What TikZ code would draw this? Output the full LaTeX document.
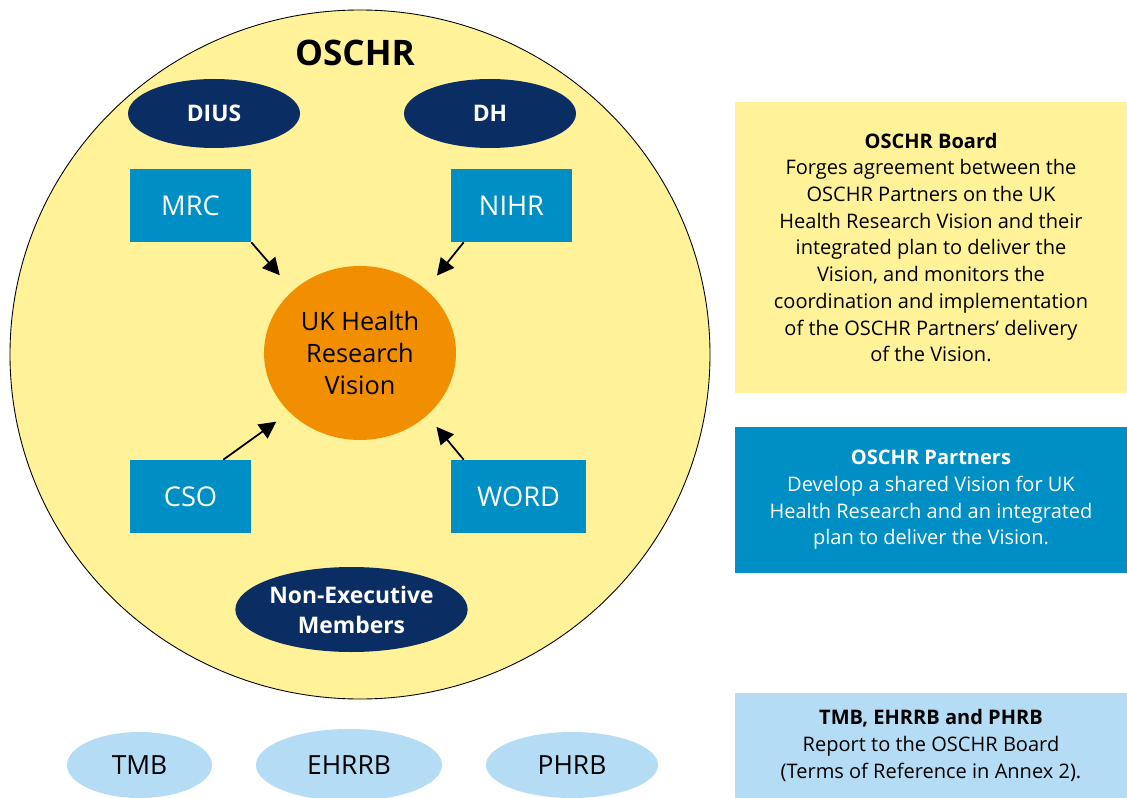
\documentclass[tikz,border=0pt]{standalone}
\usepackage{fontspec}
\setmainfont{Open Sans}
\usetikzlibrary{shapes.geometric, arrows.meta, positioning}
\definecolor{oschryellow}{RGB}{255,242,153}
\definecolor{deptnavy}{RGB}{10,45,100}
\definecolor{partnerblue}{RGB}{0,143,197}
\definecolor{visionorange}{RGB}{241,143,0}
\definecolor{boardblue}{RGB}{180,220,245}

\begin{document}
\begin{tikzpicture}[
    x=0.2mm, y=-0.2mm,
    oschr/.style={ellipse, draw=black, line width=0.5pt, fill=oschryellow, minimum width=140mm, minimum height=137.8mm, inner sep=0pt},
    dept/.style={ellipse, fill=deptnavy, text=white, font=\fontsize{13}{17}\selectfont\bfseries, minimum width=34.4mm, minimum height=13.8mm, inner sep=0pt, align=center},
    partner/.style={rectangle, fill=partnerblue, text=white, font=\fontsize{15.5}{19}\selectfont, minimum width=24.2mm, minimum height=14.6mm, inner sep=0pt},
    vision/.style={ellipse, fill=visionorange, font=\fontsize{14.4}{18}\selectfont, minimum width=38.4mm, minimum height=34.8mm, inner sep=0pt, align=center},
    subboard/.style={ellipse, fill=boardblue, font=\fontsize{15}{17}\selectfont, minimum height=13.2mm, inner sep=0pt},
    infobox/.style={rectangle, minimum width=78.4mm, inner sep=0pt, font=\fontsize{11.4}{15.2}\selectfont, align=center},
    arr/.style={-{Triangle[length=3.4mm, width=3.4mm]}, line width=1pt},
]
\useasboundingbox (0,0) rectangle (1127,798);

\node[oschr] (oschr) at (360,354.5) {};
\node[font=\fontsize{20}{24}\selectfont\bfseries] (title) at (355,52.5) {OSCHR};

\node[dept] (dius) at (214,113.5) {DIUS};
\node[dept] (dh) at (490,113.5) {DH};

\node[partner] (mrc) at (190.5,205.5) {MRC};
\node[partner] (nihr) at (511.5,205.5) {NIHR};
\node[partner] (cso) at (190.5,496.5) {CSO};
\node[partner, minimum width=27mm] (word) at (518.5,496.5) {WORD};

\node[vision] (vis) at (360,353) {UK Health\\Research\\Vision};

\node[dept, minimum width=44.6mm, minimum height=17mm] (nonexec) at (351.5,609.5) {Non-Executive\\Members};

\draw[arr, shorten >=4mm] (mrc.south east) -- (vis.137);
\draw[arr, shorten >=3.5mm] ([xshift=2.6mm]nihr.south west) -- (vis.44);
\draw[arr, shorten >=3.2mm] ([xshift=-5.6mm]cso.north east) -- (vis.220);
\draw[arr, shorten >=2.9mm] ([xshift=2.6mm]word.north west) -- (vis.317);

% boards reporting to OSCHR
\node[subboard, minimum width=29mm] (tmb) at (139.5,765) {TMB};
\node[subboard, minimum width=37.2mm, minimum height=14.4mm] (ehrrb) at (349,765) {EHRRB};
\node[subboard, minimum width=34.4mm] (phrb) at (572,765) {PHRB};

% key on the right
\node[infobox, fill=oschryellow, minimum height=58.2mm] (boardkey) at (931,247.5) {\textbf{OSCHR Board}\\Forges agreement between the\\OSCHR Partners on the UK\\Health Research Vision and their\\integrated plan to deliver the\\Vision, and monitors the\\coordination and implementation\\of the OSCHR Partners’ delivery\\of the Vision.};
\node[infobox, fill=partnerblue, text=white, minimum height=29.2mm] (partnerkey) at (931,500) {\textbf{OSCHR Partners}\\Develop a shared Vision for UK\\Health Research and an integrated\\plan to deliver the Vision.};
\node[infobox, fill=boardblue, minimum height=21mm] (subkey) at (931,745.5) {\textbf{TMB, EHRRB and PHRB}\\Report to the OSCHR Board\\(Terms of Reference in Annex 2).};

\end{tikzpicture}
\end{document}
